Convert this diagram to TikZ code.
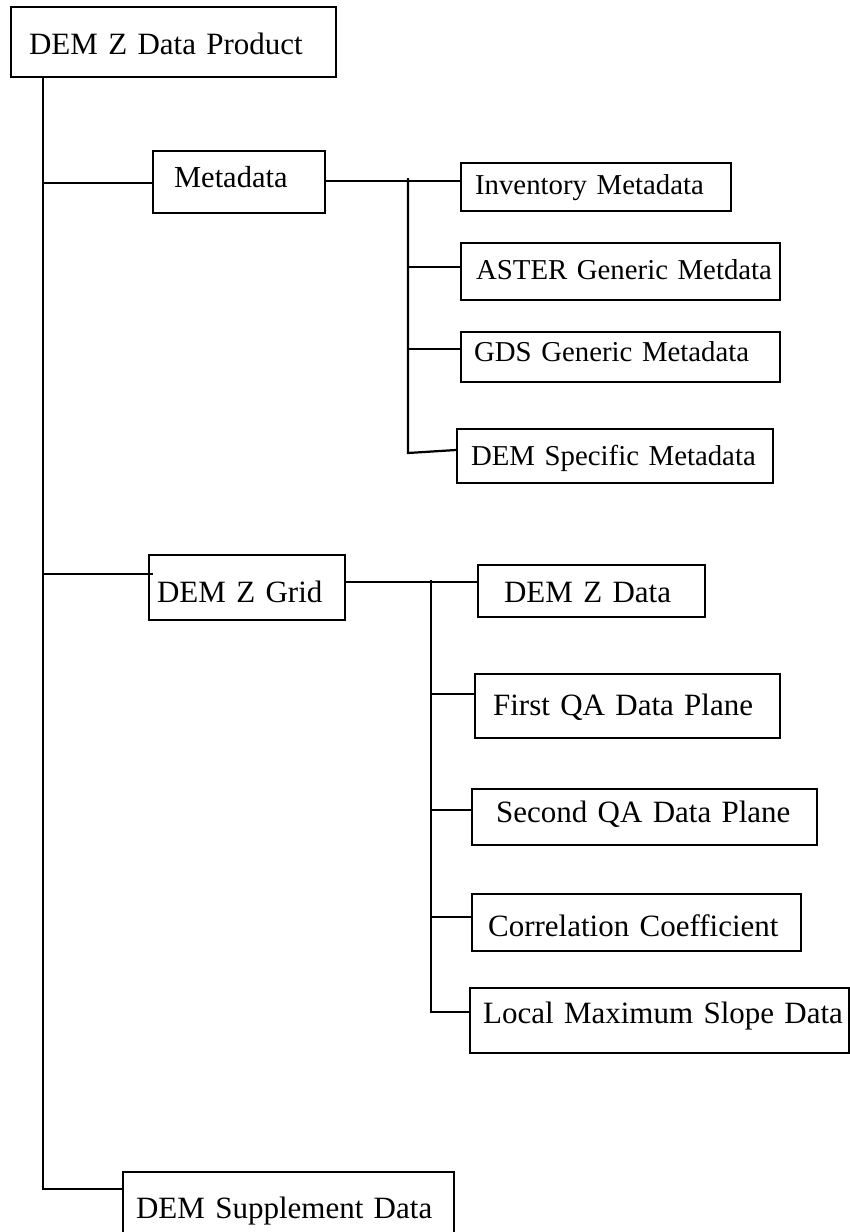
\documentclass[tikz,border=0pt]{standalone}
\usepackage{fontspec}
\setmainfont{Liberation Serif}
\begin{document}
\begin{tikzpicture}[x=1pt,y=-1pt,
  bx/.style={draw, line width=2.2pt, anchor=north west, inner sep=0pt, align=left,
             font=\fontsize{31}{36}\selectfont},
  small/.style={font=\fontsize{28.8}{34}\selectfont},
  ln/.style={line width=2.2pt}]
\clip (0,0) rectangle (850,1232);
% boxes
\node[bx, text width=325pt, text height=47pt, text depth=23pt] (top) at (10,6) {\hspace*{18pt}DEM Z Data Product};
\node[bx, font=\fontsize{30.5}{35}\selectfont, text width=172pt, text height=36pt, text depth=26pt] (meta) at (152,150) {\hspace*{21pt}Metadata};
\node[bx, small, text width=270pt, text height=31pt, text depth=17pt] (inv) at (460,162) {\hspace*{14pt}Inventory Metadata};
\node[bx, small, text width=319pt, text height=36pt, text depth=21pt] (aster) at (460,242) {\hspace*{15pt}ASTER Generic Metdata};
\node[bx, small, text width=319pt, text height=29pt, text depth=21pt] (gds) at (460,331) {\hspace*{13pt}GDS Generic Metadata};
\node[bx, small, text width=316pt, text height=36pt, text depth=18pt] (spec) at (456,428) {\hspace*{14pt}DEM Specific Metadata};
\node[bx, text width=196pt, text height=47pt, text depth=18pt] (grid) at (148,554) {\hspace*{8pt}DEM Z Grid};
\node[bx, text width=227pt, text height=37pt, text depth=15pt] (zdata) at (477,564) {\hspace*{26pt}DEM Z Data};
\node[bx, text width=305pt, text height=41pt, text depth=23pt] (qa1) at (474,673) {\hspace*{18pt}First QA Data Plane};
\node[bx, text width=345pt, text height=33pt, text depth=23pt] (qa2) at (471,788) {\hspace*{24pt}Second QA Data Plane};
\node[bx, text width=329pt, text height=42pt, text depth=15pt] (corr) at (471,893) {\hspace*{16pt}Correlation Coefficient};
\node[bx, text width=379pt, text height=35pt, text depth=30pt] (lms) at (469,987) {\hspace*{13pt}Local Maximum Slope Data};
\node[bx, text width=331pt, text height=46pt, text depth=24pt] (supp) at (122,1171) {\hspace*{13pt}DEM Supplement Data};
% trunk
\coordinate (tk) at ([xshift=33pt]top.south west);
\draw[ln] (tk) |- ([yshift=-18pt]supp.north west);
\draw[ln] (tk |- 0,183) -- (meta.west |- 0,183);
\draw[ln] (tk |- 0,574) -- ([xshift=5pt]grid.west |- 0,574);
% metadata bus
\coordinate (mb) at (408,178);
\draw[ln] (meta.east |- 0,181) -- (inv.west |- 0,181);
\draw[ln] (mb) -- (mb |- 0,453) -- (spec.west |- 0,450);
\draw[ln] (mb |- 0,267) -- (aster.west |- 0,267);
\draw[ln] (mb |- 0,349) -- (gds.west |- 0,349);
% grid bus
\coordinate (gb) at (431,580);
\draw[ln] (grid.east |- 0,582) -- (zdata.west |- 0,582);
\draw[ln] (gb) |- (lms.west |- 0,1012);
\draw[ln] (gb |- 0,694) -- (qa1.west |- 0,694);
\draw[ln] (gb |- 0,810) -- (qa2.west |- 0,810);
\draw[ln] (gb |- 0,917) -- (corr.west |- 0,917);
\end{tikzpicture}
\end{document}
